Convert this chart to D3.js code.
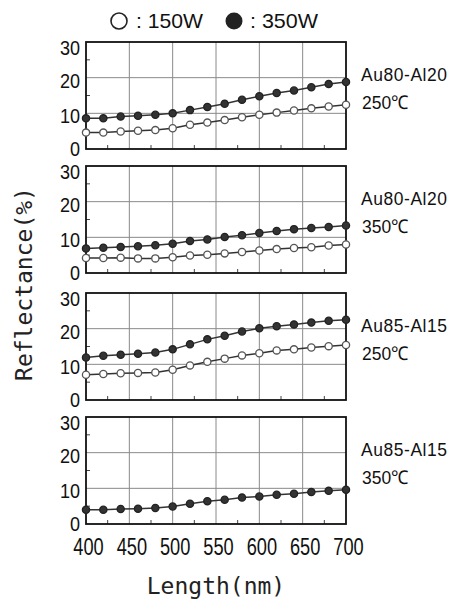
<!DOCTYPE html>
<html lang="en">
<head>
<meta charset="UTF-8">
<title>Reflectance vs Length</title>
<script src="https://d3js.org/d3.v7.min.js"></script>
<style>
    * { margin: 0; padding: 0; }
    body { background: #fff; width: 463px; height: 602px; overflow: hidden; }
    svg { display: block; }
    .tick-label { font-family: "Liberation Sans", Arial, sans-serif; fill: #111; }
    .title { font-family: "DejaVu Sans Mono", monospace; fill: #222; }
</style>
</head>
<body>
<svg id="chart" width="463" height="602"></svg>
<script>
// wavelengths (nm), one point every 20 nm
const wavelengths = [400, 420, 440, 460, 480, 500, 520, 540, 560, 580, 600, 620, 640, 660, 680, 700];
const lengthTicks = [400, 450, 500, 550, 600, 650, 700];
const reflTicks = [0, 10, 20, 30];

const alloyLabels = ["Au80-Al20", "Au80-Al20", "Au85-Al15", "Au85-Al15"];
const tempLabels = ["250℃", "350℃", "250℃", "350℃"];

// reflectance (%) at 150W (open) and 350W (filled)
const p1_150W = [4.6, 4.6, 4.9, 5.1, 5.3, 5.8, 6.8, 7.4, 8.1, 8.9, 9.6, 10.2, 10.8, 11.4, 11.9, 12.4];
const p1_350W = [8.6, 8.6, 9.1, 9.3, 9.6, 10.0, 10.9, 11.8, 12.7, 13.8, 14.8, 15.7, 16.4, 17.3, 18.2, 18.8];
const p2_150W = [4.2, 4.2, 4.3, 4.1, 4.1, 4.4, 4.9, 5.1, 5.5, 5.9, 6.3, 6.7, 7.0, 7.2, 7.7, 8.0];
const p2_350W = [6.9, 7.1, 7.3, 7.5, 7.8, 8.2, 9.0, 9.4, 10.1, 10.6, 11.2, 11.8, 12.3, 12.6, 12.9, 13.3];
const p3_150W = [7.1, 7.3, 7.5, 7.6, 7.7, 8.5, 9.7, 10.7, 11.6, 12.5, 13.1, 13.9, 14.2, 14.7, 15.1, 15.4];
const p3_350W = [11.9, 12.4, 12.7, 13.0, 13.3, 14.2, 15.6, 17.0, 18.0, 19.2, 20.1, 20.7, 21.2, 21.7, 22.2, 22.5];
const p4_350W = [4.0, 4.0, 4.2, 4.3, 4.5, 4.9, 5.7, 6.4, 6.8, 7.4, 7.7, 8.2, 8.5, 9.0, 9.3, 9.6];

const panels = [
    { low: p1_150W, high: p1_350W },
    { low: p2_150W, high: p2_350W },
    { low: p3_150W, high: p3_350W },
    { low: null,    high: p4_350W }
];

// layout
const panelTops = [42, 166, 293, 417];
const panelH = 107;
const left = 86, right = 346;

const svg = d3.select("#chart");

const x = d3.scaleLinear().domain([400, 700]).range([left, right]);

const line = (y) => d3.line()
    .x((d, i) => x(wavelengths[i]))
    .y(d => y(d));

panels.forEach((p, k) => {
    const top = panelTops[k];
    const y = d3.scaleLinear().domain([0, 30]).range([top + panelH, top]);
    const g = svg.append("g");

    // grid
    g.selectAll(".vgrid").data(lengthTicks.slice(1, -1)).enter().append("line")
        .attr("x1", d => x(d)).attr("x2", d => x(d))
        .attr("y1", top).attr("y2", top + panelH)
        .attr("stroke", "#8a8a8a").attr("stroke-width", 1);
    g.selectAll(".hgrid").data(reflTicks.slice(1, -1)).enter().append("line")
        .attr("x1", left).attr("x2", right)
        .attr("y1", d => y(d)).attr("y2", d => y(d))
        .attr("stroke", "#8a8a8a").attr("stroke-width", 1);

    // minor ticks (inside)
    const minorX = d3.pairs(lengthTicks).map(([a, b]) => (a + b) / 2);
    g.selectAll(".mx").data(minorX).enter().append("line")
        .attr("x1", d => x(d)).attr("x2", d => x(d))
        .attr("y1", top + panelH).attr("y2", top + panelH - 4)
        .attr("stroke", "#444").attr("stroke-width", 1);
    const minorY = d3.pairs(reflTicks).map(([a, b]) => (a + b) / 2);
    g.selectAll(".my").data(minorY).enter().append("line")
        .attr("x1", left).attr("x2", left + 4)
        .attr("y1", d => y(d)).attr("y2", d => y(d))
        .attr("stroke", "#444").attr("stroke-width", 1);

    // frame
    g.append("rect")
        .attr("x", left).attr("y", top)
        .attr("width", right - left).attr("height", panelH)
        .attr("fill", "none").attr("stroke", "#111").attr("stroke-width", 1.8);

    // y axis labels
    const ya = g.append("g").attr("transform", `translate(${left},0)`)
        .call(d3.axisLeft(y).tickValues(reflTicks).tickSize(0).tickPadding(0));
    ya.select(".domain").remove();
    ya.selectAll("text")
        .attr("class", "tick-label")
        .attr("x", null).attr("dy", null)
        .attr("font-size", 21)
        .attr("transform", d => `translate(-6,${d === 30 ? 12.5 : (d === 0 ? 6 : 9.5)}) scale(0.86,1)`)
        .attr("text-anchor", "end");

    // series
    const series = [
        { data: p.low, fill: "#fff", stroke: "#555" },
        { data: p.high, fill: "#333", stroke: "#222" }
    ].filter(s => s.data);

    series.forEach(s => {
        g.append("path").datum(s.data)
            .attr("d", line(y))
            .attr("fill", "none").attr("stroke", "#333").attr("stroke-width", 1.5);
        g.selectAll(null).data(s.data).enter().append("circle")
            .attr("cx", (d, i) => x(wavelengths[i]))
            .attr("cy", d => y(d))
            .attr("r", 3.6)
            .attr("fill", s.fill).attr("stroke", s.stroke).attr("stroke-width", 1.3);
    });

    // right labels
    g.append("text").attr("class", "tick-label")
        .attr("transform", `translate(361,${top + 39}) scale(0.92,1)`)
        .attr("font-size", 19).attr("letter-spacing", 0.6)
        .text(alloyLabels[k]);
    g.append("text").attr("class", "tick-label")
        .attr("transform", `translate(362,${top + 67}) scale(0.92,1)`)
        .attr("font-size", 19)
        .text(tempLabels[k]);
});

// x axis labels under the last panel
const bottom = panelTops[3] + panelH;
const xa = svg.append("g").attr("transform", `translate(0,${bottom})`)
    .call(d3.axisBottom(x).tickValues(lengthTicks).tickSize(0).tickPadding(0));
xa.select(".domain").remove();
xa.selectAll("text")
    .attr("class", "tick-label")
    .attr("y", null).attr("dy", null)
    .attr("font-size", 24)
    .attr("transform", "translate(2,31) scale(0.76,1)")
    .attr("text-anchor", "middle");

// legend
const legend = svg.append("g");
legend.append("circle").attr("cx", 119).attr("cy", 21).attr("r", 8)
    .attr("fill", "#fff").attr("stroke", "#222").attr("stroke-width", 1.6);
legend.append("text").attr("class", "tick-label")
    .attr("x", 136).attr("y", 28).attr("font-size", 21)
    .attr("textLength", 67).attr("lengthAdjust", "spacingAndGlyphs")
    .text(": 150W");
legend.append("circle").attr("cx", 234).attr("cy", 21).attr("r", 8.5)
    .attr("fill", "#222");
legend.append("text").attr("class", "tick-label")
    .attr("x", 250).attr("y", 28).attr("font-size", 21)
    .attr("textLength", 68).attr("lengthAdjust", "spacingAndGlyphs")
    .text(": 350W");

// axis titles
svg.append("text").attr("class", "title")
    .attr("transform", "translate(32,284) rotate(-90)")
    .attr("text-anchor", "middle").attr("font-size", 23)
    .text("Reflectance(%)");
svg.append("text").attr("class", "title")
    .attr("x", 216).attr("y", 594)
    .attr("text-anchor", "middle").attr("font-size", 23)
    .text("Length(nm)");
</script>
</body>
</html>
